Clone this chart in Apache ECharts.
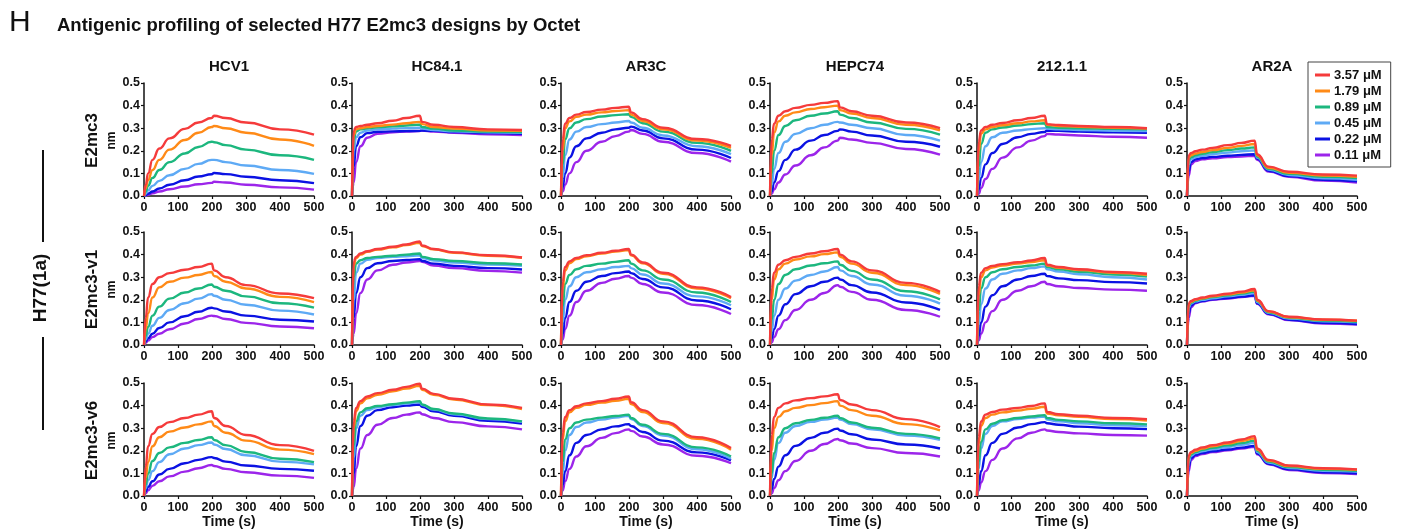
<!DOCTYPE html>
<html><head><meta charset="utf-8">
<script src="https://cdn.jsdelivr.net/npm/echarts@6/dist/echarts.min.js"></script>
<style>html,body{margin:0;padding:0;background:#fff}#c{width:1406px;height:531px}</style>
</head><body><div id="c"></div>
<script>
// ---------- data ----------
const timePoints = [0, 5, 12, 25, 45, 75, 120, 160, 199, 206, 240, 300, 400, 500];
const concentrations = ['3.57 μM', '1.79 μM', '0.89 μM', '0.45 μM', '0.22 μM', '0.11 μM'];
const antibodies = ['HCV1', 'HC84.1', 'AR3C', 'HEPC74', '212.1.1', 'AR2A'];
const designs = ['E2mc3', 'E2mc3-v1', 'E2mc3-v6'];
const xTicks = [0, 100, 200, 300, 400, 500];
const yTicks = [0, 0.1, 0.2, 0.3, 0.4, 0.5];

// row E2mc3 (each: 3.57, 1.79, 0.89, 0.45, 0.22, 0.11 μM)
const E2mc3_HCV1 = [
  [0, 0.05, 0.1, 0.16, 0.21, 0.255, 0.297, 0.325, 0.345, 0.355, 0.345, 0.325, 0.295, 0.272],
  [0, 0.035, 0.07, 0.115, 0.16, 0.205, 0.248, 0.28, 0.305, 0.31, 0.3, 0.28, 0.25, 0.222],
  [0, 0.02, 0.045, 0.08, 0.115, 0.15, 0.188, 0.217, 0.24, 0.238, 0.225, 0.205, 0.18, 0.16],
  [0, 0.01, 0.025, 0.045, 0.067, 0.092, 0.12, 0.142, 0.16, 0.16, 0.15, 0.135, 0.115, 0.098],
  [0, 0.004, 0.01, 0.02, 0.033, 0.05, 0.07, 0.086, 0.096, 0.102, 0.097, 0.085, 0.07, 0.057],
  [0, 0.002, 0.006, 0.012, 0.02, 0.03, 0.042, 0.052, 0.058, 0.063, 0.06, 0.05, 0.038, 0.028]
];
const E2mc3_HC841 = [
  [0, 0.29, 0.305, 0.31, 0.315, 0.322, 0.333, 0.345, 0.355, 0.328, 0.315, 0.305, 0.295, 0.292],
  [0, 0.27, 0.295, 0.3, 0.305, 0.31, 0.316, 0.322, 0.328, 0.318, 0.305, 0.298, 0.29, 0.288],
  [0, 0.25, 0.285, 0.295, 0.3, 0.304, 0.308, 0.312, 0.316, 0.305, 0.298, 0.29, 0.285, 0.283],
  [0, 0.2, 0.26, 0.28, 0.29, 0.295, 0.298, 0.3, 0.302, 0.298, 0.292, 0.286, 0.282, 0.28],
  [0, 0.13, 0.22, 0.26, 0.278, 0.284, 0.286, 0.287, 0.288, 0.29, 0.288, 0.283, 0.278, 0.275],
  [0, 0.06, 0.15, 0.22, 0.258, 0.275, 0.282, 0.285, 0.287, 0.29, 0.285, 0.28, 0.273, 0.27]
];
const E2mc3_AR3C = [
  [0, 0.25, 0.32, 0.345, 0.36, 0.372, 0.382, 0.39, 0.395, 0.37, 0.34, 0.302, 0.252, 0.222],
  [0, 0.2, 0.3, 0.33, 0.35, 0.36, 0.37, 0.376, 0.38, 0.36, 0.332, 0.295, 0.245, 0.213],
  [0, 0.14, 0.25, 0.3, 0.325, 0.34, 0.352, 0.358, 0.362, 0.35, 0.322, 0.285, 0.235, 0.2],
  [0, 0.08, 0.18, 0.25, 0.285, 0.305, 0.318, 0.325, 0.332, 0.325, 0.302, 0.268, 0.22, 0.185],
  [0, 0.04, 0.1, 0.17, 0.22, 0.255, 0.28, 0.295, 0.302, 0.307, 0.29, 0.255, 0.205, 0.168],
  [0, 0.02, 0.05, 0.1, 0.15, 0.2, 0.24, 0.265, 0.285, 0.292, 0.275, 0.24, 0.19, 0.152]
];
const E2mc3_HEPC74 = [
  [0, 0.25, 0.32, 0.355, 0.375, 0.39, 0.403, 0.412, 0.42, 0.392, 0.375, 0.355, 0.325, 0.3],
  [0, 0.18, 0.28, 0.33, 0.355, 0.37, 0.385, 0.393, 0.4, 0.38, 0.365, 0.345, 0.315, 0.29],
  [0, 0.1, 0.2, 0.27, 0.31, 0.335, 0.355, 0.365, 0.375, 0.36, 0.345, 0.325, 0.297, 0.272],
  [0, 0.05, 0.12, 0.19, 0.24, 0.275, 0.3, 0.315, 0.328, 0.325, 0.315, 0.3, 0.27, 0.245],
  [0, 0.02, 0.06, 0.11, 0.16, 0.205, 0.245, 0.27, 0.288, 0.295, 0.285, 0.268, 0.24, 0.218],
  [0, 0.01, 0.03, 0.06, 0.095, 0.135, 0.18, 0.215, 0.245, 0.258, 0.25, 0.235, 0.208, 0.183]
];
const E2mc3_212 = [
  [0, 0.24, 0.29, 0.305, 0.315, 0.323, 0.335, 0.345, 0.355, 0.318, 0.314, 0.31, 0.305, 0.3],
  [0, 0.2, 0.275, 0.295, 0.305, 0.313, 0.322, 0.33, 0.335, 0.315, 0.31, 0.306, 0.302, 0.298],
  [0, 0.13, 0.23, 0.28, 0.295, 0.303, 0.312, 0.318, 0.322, 0.305, 0.302, 0.3, 0.297, 0.295],
  [0, 0.07, 0.15, 0.22, 0.26, 0.28, 0.29, 0.296, 0.3, 0.298, 0.295, 0.292, 0.289, 0.287],
  [0, 0.03, 0.08, 0.14, 0.19, 0.23, 0.26, 0.275, 0.283, 0.29, 0.288, 0.285, 0.282, 0.28],
  [0, 0.01, 0.035, 0.075, 0.12, 0.17, 0.215, 0.245, 0.265, 0.275, 0.272, 0.268, 0.262, 0.258]
];
const E2mc3_AR2A = [
  [0, 0.18, 0.19, 0.198, 0.205, 0.213, 0.225, 0.235, 0.245, 0.185, 0.13, 0.107, 0.095, 0.09],
  [0, 0.17, 0.18, 0.188, 0.195, 0.203, 0.213, 0.222, 0.23, 0.18, 0.125, 0.103, 0.09, 0.085],
  [0, 0.16, 0.172, 0.18, 0.187, 0.194, 0.203, 0.21, 0.215, 0.175, 0.12, 0.098, 0.085, 0.079],
  [0, 0.14, 0.163, 0.172, 0.178, 0.185, 0.192, 0.198, 0.202, 0.17, 0.117, 0.093, 0.078, 0.072],
  [0, 0.11, 0.15, 0.162, 0.168, 0.173, 0.178, 0.182, 0.185, 0.165, 0.112, 0.088, 0.072, 0.065],
  [0, 0.09, 0.14, 0.155, 0.162, 0.167, 0.172, 0.175, 0.178, 0.16, 0.108, 0.085, 0.068, 0.06]
];

// row E2mc3-v1
const V1_HCV1 = [
  [0, 0.12, 0.21, 0.27, 0.3, 0.318, 0.333, 0.345, 0.36, 0.33, 0.3, 0.265, 0.228, 0.207],
  [0, 0.07, 0.14, 0.21, 0.255, 0.28, 0.298, 0.31, 0.323, 0.305, 0.28, 0.25, 0.213, 0.19],
  [0, 0.04, 0.08, 0.13, 0.17, 0.205, 0.232, 0.25, 0.268, 0.258, 0.24, 0.215, 0.185, 0.165],
  [0, 0.025, 0.05, 0.085, 0.12, 0.155, 0.185, 0.205, 0.225, 0.218, 0.2, 0.178, 0.152, 0.135],
  [0, 0.015, 0.03, 0.05, 0.075, 0.1, 0.127, 0.147, 0.165, 0.162, 0.148, 0.13, 0.112, 0.104],
  [0, 0.01, 0.02, 0.035, 0.05, 0.07, 0.095, 0.115, 0.13, 0.128, 0.115, 0.098, 0.082, 0.074]
];
const V1_HC841 = [
  [0, 0.37, 0.39, 0.405, 0.415, 0.425, 0.435, 0.445, 0.458, 0.44, 0.425, 0.41, 0.397, 0.387],
  [0, 0.35, 0.385, 0.4, 0.412, 0.422, 0.432, 0.442, 0.452, 0.438, 0.423, 0.408, 0.395, 0.386],
  [0, 0.3, 0.36, 0.375, 0.385, 0.39, 0.395, 0.4, 0.405, 0.39, 0.38, 0.372, 0.362, 0.356],
  [0, 0.2, 0.32, 0.36, 0.377, 0.385, 0.39, 0.393, 0.397, 0.385, 0.374, 0.365, 0.356, 0.35],
  [0, 0.12, 0.23, 0.3, 0.34, 0.362, 0.372, 0.376, 0.38, 0.372, 0.36, 0.35, 0.34, 0.334],
  [0, 0.05, 0.14, 0.23, 0.29, 0.33, 0.355, 0.365, 0.372, 0.368, 0.352, 0.34, 0.328, 0.32]
];
const V1_AR3C = [
  [0, 0.28, 0.345, 0.37, 0.385, 0.397, 0.408, 0.417, 0.425, 0.4, 0.365, 0.32, 0.255, 0.212],
  [0, 0.25, 0.33, 0.362, 0.38, 0.393, 0.405, 0.413, 0.42, 0.397, 0.362, 0.315, 0.25, 0.207],
  [0, 0.17, 0.27, 0.31, 0.335, 0.35, 0.36, 0.368, 0.375, 0.36, 0.33, 0.29, 0.232, 0.19],
  [0, 0.1, 0.2, 0.26, 0.3, 0.322, 0.335, 0.345, 0.35, 0.34, 0.312, 0.272, 0.215, 0.176],
  [0, 0.05, 0.12, 0.19, 0.24, 0.28, 0.305, 0.318, 0.325, 0.318, 0.292, 0.255, 0.197, 0.158],
  [0, 0.025, 0.07, 0.13, 0.19, 0.24, 0.275, 0.293, 0.305, 0.298, 0.27, 0.232, 0.177, 0.137]
];
const V1_HEPC74 = [
  [0, 0.25, 0.32, 0.355, 0.375, 0.39, 0.405, 0.415, 0.425, 0.4, 0.37, 0.33, 0.275, 0.235],
  [0, 0.2, 0.29, 0.335, 0.36, 0.378, 0.392, 0.402, 0.41, 0.39, 0.36, 0.32, 0.265, 0.226],
  [0, 0.11, 0.2, 0.27, 0.31, 0.335, 0.352, 0.362, 0.37, 0.355, 0.328, 0.29, 0.238, 0.202],
  [0, 0.06, 0.13, 0.2, 0.25, 0.285, 0.31, 0.325, 0.345, 0.33, 0.305, 0.268, 0.218, 0.183],
  [0, 0.03, 0.07, 0.13, 0.18, 0.225, 0.26, 0.28, 0.298, 0.29, 0.265, 0.232, 0.188, 0.155],
  [0, 0.012, 0.035, 0.07, 0.11, 0.155, 0.2, 0.23, 0.265, 0.258, 0.235, 0.2, 0.155, 0.125]
];
const V1_212 = [
  [0, 0.26, 0.32, 0.34, 0.35, 0.358, 0.366, 0.374, 0.385, 0.355, 0.345, 0.335, 0.323, 0.315],
  [0, 0.22, 0.3, 0.33, 0.343, 0.352, 0.36, 0.367, 0.375, 0.352, 0.342, 0.332, 0.32, 0.31],
  [0, 0.15, 0.25, 0.3, 0.322, 0.335, 0.345, 0.352, 0.36, 0.345, 0.335, 0.324, 0.312, 0.303],
  [0, 0.09, 0.18, 0.25, 0.29, 0.315, 0.33, 0.34, 0.348, 0.335, 0.325, 0.313, 0.3, 0.29],
  [0, 0.04, 0.1, 0.17, 0.22, 0.26, 0.29, 0.305, 0.315, 0.305, 0.295, 0.287, 0.278, 0.272],
  [0, 0.02, 0.05, 0.1, 0.15, 0.2, 0.24, 0.26, 0.28, 0.27, 0.26, 0.252, 0.245, 0.24]
];
const V1_AR2A = [
  [0, 0.185, 0.195, 0.203, 0.21, 0.218, 0.227, 0.236, 0.248, 0.2, 0.15, 0.125, 0.113, 0.108],
  [0, 0.18, 0.192, 0.2, 0.207, 0.215, 0.224, 0.232, 0.242, 0.197, 0.148, 0.123, 0.112, 0.107],
  [0, 0.175, 0.188, 0.197, 0.204, 0.212, 0.22, 0.228, 0.236, 0.194, 0.145, 0.12, 0.108, 0.103],
  [0, 0.165, 0.183, 0.193, 0.2, 0.207, 0.215, 0.222, 0.23, 0.19, 0.142, 0.117, 0.105, 0.1],
  [0, 0.14, 0.175, 0.188, 0.195, 0.202, 0.208, 0.214, 0.22, 0.185, 0.138, 0.112, 0.098, 0.093],
  [0, 0.12, 0.168, 0.185, 0.193, 0.2, 0.206, 0.212, 0.218, 0.182, 0.136, 0.11, 0.095, 0.09]
];

// row E2mc3-v6
const V6_HCV1 = [
  [0, 0.13, 0.22, 0.275, 0.305, 0.327, 0.345, 0.36, 0.375, 0.345, 0.31, 0.27, 0.225, 0.2],
  [0, 0.08, 0.15, 0.22, 0.26, 0.285, 0.303, 0.317, 0.33, 0.31, 0.28, 0.245, 0.205, 0.185],
  [0, 0.05, 0.1, 0.155, 0.19, 0.215, 0.235, 0.248, 0.26, 0.248, 0.225, 0.195, 0.165, 0.15],
  [0, 0.035, 0.07, 0.11, 0.15, 0.185, 0.21, 0.225, 0.237, 0.228, 0.208, 0.18, 0.152, 0.14],
  [0, 0.02, 0.04, 0.065, 0.095, 0.12, 0.145, 0.16, 0.172, 0.168, 0.152, 0.135, 0.12, 0.112],
  [0, 0.012, 0.025, 0.045, 0.065, 0.087, 0.108, 0.123, 0.137, 0.133, 0.12, 0.105, 0.09, 0.08]
];
const V6_HC841 = [
  [0, 0.33, 0.39, 0.42, 0.44, 0.455, 0.47, 0.483, 0.497, 0.475, 0.452, 0.43, 0.405, 0.39],
  [0, 0.3, 0.375, 0.41, 0.432, 0.448, 0.463, 0.475, 0.488, 0.47, 0.448, 0.427, 0.402, 0.385],
  [0, 0.22, 0.33, 0.37, 0.388, 0.398, 0.406, 0.413, 0.42, 0.405, 0.385, 0.365, 0.343, 0.33],
  [0, 0.17, 0.3, 0.355, 0.38, 0.393, 0.402, 0.409, 0.416, 0.402, 0.382, 0.362, 0.34, 0.328],
  [0, 0.1, 0.22, 0.31, 0.355, 0.38, 0.393, 0.4, 0.405, 0.395, 0.375, 0.355, 0.333, 0.32],
  [0, 0.04, 0.12, 0.21, 0.27, 0.315, 0.345, 0.36, 0.37, 0.362, 0.345, 0.327, 0.308, 0.295]
];
const V6_AR3C = [
  [0, 0.28, 0.35, 0.38, 0.397, 0.41, 0.42, 0.43, 0.44, 0.415, 0.38, 0.33, 0.26, 0.212],
  [0, 0.25, 0.33, 0.37, 0.39, 0.403, 0.413, 0.421, 0.43, 0.407, 0.372, 0.323, 0.253, 0.205],
  [0, 0.15, 0.25, 0.3, 0.325, 0.338, 0.347, 0.354, 0.36, 0.345, 0.315, 0.275, 0.215, 0.175],
  [0, 0.1, 0.2, 0.27, 0.305, 0.325, 0.338, 0.347, 0.355, 0.34, 0.31, 0.268, 0.207, 0.165],
  [0, 0.05, 0.11, 0.18, 0.235, 0.27, 0.295, 0.308, 0.318, 0.31, 0.283, 0.245, 0.193, 0.158],
  [0, 0.025, 0.065, 0.12, 0.175, 0.22, 0.257, 0.278, 0.295, 0.288, 0.263, 0.228, 0.178, 0.145]
];
const V6_HEPC74 = [
  [0, 0.27, 0.35, 0.39, 0.41, 0.423, 0.433, 0.441, 0.45, 0.425, 0.405, 0.38, 0.34, 0.305],
  [0, 0.2, 0.3, 0.35, 0.375, 0.39, 0.402, 0.411, 0.42, 0.4, 0.38, 0.355, 0.318, 0.29],
  [0, 0.1, 0.19, 0.26, 0.3, 0.322, 0.337, 0.346, 0.355, 0.345, 0.325, 0.302, 0.275, 0.255],
  [0, 0.08, 0.16, 0.235, 0.28, 0.31, 0.328, 0.338, 0.347, 0.338, 0.318, 0.295, 0.268, 0.248],
  [0, 0.03, 0.075, 0.13, 0.18, 0.222, 0.257, 0.28, 0.298, 0.29, 0.273, 0.25, 0.228, 0.21],
  [0, 0.012, 0.035, 0.07, 0.11, 0.155, 0.2, 0.23, 0.252, 0.247, 0.232, 0.212, 0.19, 0.175]
];
const V6_212 = [
  [0, 0.26, 0.33, 0.36, 0.372, 0.382, 0.39, 0.398, 0.41, 0.372, 0.362, 0.355, 0.345, 0.34],
  [0, 0.23, 0.31, 0.345, 0.36, 0.37, 0.378, 0.386, 0.395, 0.365, 0.357, 0.35, 0.34, 0.334],
  [0, 0.15, 0.24, 0.295, 0.32, 0.335, 0.345, 0.352, 0.358, 0.345, 0.337, 0.33, 0.322, 0.317],
  [0, 0.12, 0.21, 0.275, 0.31, 0.33, 0.34, 0.347, 0.352, 0.338, 0.33, 0.322, 0.313, 0.308],
  [0, 0.05, 0.11, 0.18, 0.235, 0.275, 0.303, 0.318, 0.327, 0.322, 0.315, 0.307, 0.3, 0.296],
  [0, 0.025, 0.06, 0.11, 0.16, 0.21, 0.255, 0.28, 0.295, 0.29, 0.283, 0.277, 0.27, 0.267]
];
const V6_AR2A = [
  [0, 0.18, 0.195, 0.205, 0.215, 0.225, 0.237, 0.25, 0.265, 0.21, 0.16, 0.135, 0.123, 0.118],
  [0, 0.175, 0.19, 0.2, 0.21, 0.22, 0.232, 0.243, 0.255, 0.205, 0.157, 0.132, 0.12, 0.116],
  [0, 0.165, 0.185, 0.195, 0.204, 0.213, 0.224, 0.234, 0.245, 0.2, 0.152, 0.128, 0.116, 0.112],
  [0, 0.15, 0.178, 0.19, 0.198, 0.207, 0.217, 0.226, 0.235, 0.195, 0.148, 0.124, 0.112, 0.108],
  [0, 0.13, 0.168, 0.182, 0.19, 0.198, 0.206, 0.214, 0.222, 0.188, 0.143, 0.118, 0.105, 0.1],
  [0, 0.11, 0.16, 0.177, 0.186, 0.194, 0.202, 0.21, 0.218, 0.185, 0.14, 0.115, 0.102, 0.097]
];

const panels = [
  [E2mc3_HCV1, E2mc3_HC841, E2mc3_AR3C, E2mc3_HEPC74, E2mc3_212, E2mc3_AR2A],
  [V1_HCV1, V1_HC841, V1_AR3C, V1_HEPC74, V1_212, V1_AR2A],
  [V6_HCV1, V6_HC841, V6_AR3C, V6_HEPC74, V6_212, V6_AR2A]
];

// ---------- layout / style ----------
const colors = ['#f53b3b', '#ff8a17', '#1cb77e', '#5eaaf5', '#0b12e3', '#9c25ea'];
const colLeft = [144, 352, 561, 770, 977, 1187];
const rowTop = [83, 232, 383];
const PW = 170, PH = 113;
const FONT = '"Liberation Sans", Arial, sans-serif';

const grids = [], xAxes = [], yAxes = [], series = [];
let k = 0;
for (let r = 0; r < 3; r++) {
  for (let c = 0; c < 6; c++) {
    grids.push({ left: colLeft[c], top: rowTop[r], width: PW, height: PH });
    xAxes.push({
      gridIndex: k, type: 'value', min: xTicks[0], max: xTicks[xTicks.length - 1], interval: 100,
      splitLine: { show: false },
      axisLine: { lineStyle: { color: '#111', width: 1.5 } },
      axisTick: { length: 3, lineStyle: { color: '#111', width: 1.2 } },
      axisLabel: { color: '#111', fontWeight: 'bold', fontSize: 12.5, fontFamily: FONT, margin: 5,
                   showMinLabel: true, showMaxLabel: true },
      name: r === 2 ? 'Time (s)' : '', nameLocation: 'middle', nameGap: 19,
      nameTextStyle: { color: '#111', fontWeight: 'bold', fontSize: 14, fontFamily: FONT }
    });
    yAxes.push({
      gridIndex: k, type: 'value', min: yTicks[0], max: yTicks[yTicks.length - 1], interval: 0.1,
      splitLine: { show: false },
      axisLine: { show: true, lineStyle: { color: '#111', width: 1.5 } },
      axisTick: { show: true, length: 3, lineStyle: { color: '#111', width: 1.2 } },
      axisLabel: { color: '#111', fontWeight: 'bold', fontSize: 12.5, fontFamily: FONT, margin: 4,
                   formatter: v => v.toFixed(1) }
    });
    const vals = panels[r][c];
    for (let i = vals.length - 1; i >= 0; i--) {
      series.push({
        type: 'line', name: concentrations[i], xAxisIndex: k, yAxisIndex: k,
        data: timePoints.map((t, j) => [t, vals[i][j]]),
        showSymbol: false, symbol: 'none', smooth: 0.5, smoothMonotone: 'x',
        lineStyle: { color: colors[i], width: 2.4 }, itemStyle: { color: colors[i] },
        emphasis: { disabled: true }
      });
    }
    k++;
  }
}

const graphic = [
  { type: 'text', left: 9, top: 8, style: { text: 'H', font: '30px ' + FONT, fill: '#111' } },
  { type: 'text', left: 57, top: 16, style: { text: 'Antigenic profiling of selected H77 E2mc3 designs by Octet',
      font: 'bold 18.5px ' + FONT, fill: '#111' } },
  { type: 'line', shape: { x1: 43, y1: 150, x2: 43, y2: 242 }, style: { stroke: '#111', lineWidth: 2 } },
  { type: 'line', shape: { x1: 43, y1: 337, x2: 43, y2: 430 }, style: { stroke: '#111', lineWidth: 2 } },
  { type: 'text', x: 41, y: 288, rotation: Math.PI / 2,
    style: { text: 'H77(1a)', font: 'bold 19px ' + FONT, fill: '#111', align: 'center', verticalAlign: 'middle' } }
];
antibodies.forEach((a, c) => {
  graphic.push({ type: 'text', x: colLeft[c] + PW / 2, y: 67,
    style: { text: a, font: 'bold 15px ' + FONT, fill: '#111', align: 'center', verticalAlign: 'middle' } });
});
designs.forEach((d, r) => {
  const cy = rowTop[r] + PH / 2 + 1;
  graphic.push({ type: 'text', x: 92, y: cy, rotation: Math.PI / 2,
    style: { text: d, font: 'bold 17px ' + FONT, fill: '#111', align: 'center', verticalAlign: 'middle' } });
  graphic.push({ type: 'text', x: 112, y: cy, rotation: Math.PI / 2,
    style: { text: 'nm', font: 'bold 12px ' + FONT, fill: '#111', align: 'center', verticalAlign: 'middle' } });
});

const chart = echarts.init(document.getElementById('c'), null, { renderer: 'canvas' });
chart.setOption({
  animation: false,
  backgroundColor: '#fff',
  grid: grids, xAxis: xAxes, yAxis: yAxes, series: series,
  legend: {
    data: concentrations, orient: 'vertical', left: 1308, top: 62,
    backgroundColor: '#fff', borderColor: '#444', borderWidth: 1, padding: [6, 9, 5, 7],
    icon: 'rect', itemWidth: 15, itemHeight: 3, itemGap: 2,
    textStyle: { color: '#111', fontWeight: 'bold', fontSize: 13, fontFamily: FONT, lineHeight: 14, padding: [0, 0, 0, -1] },
    selectedMode: false
  },
  graphic: graphic
});
</script></body></html>
